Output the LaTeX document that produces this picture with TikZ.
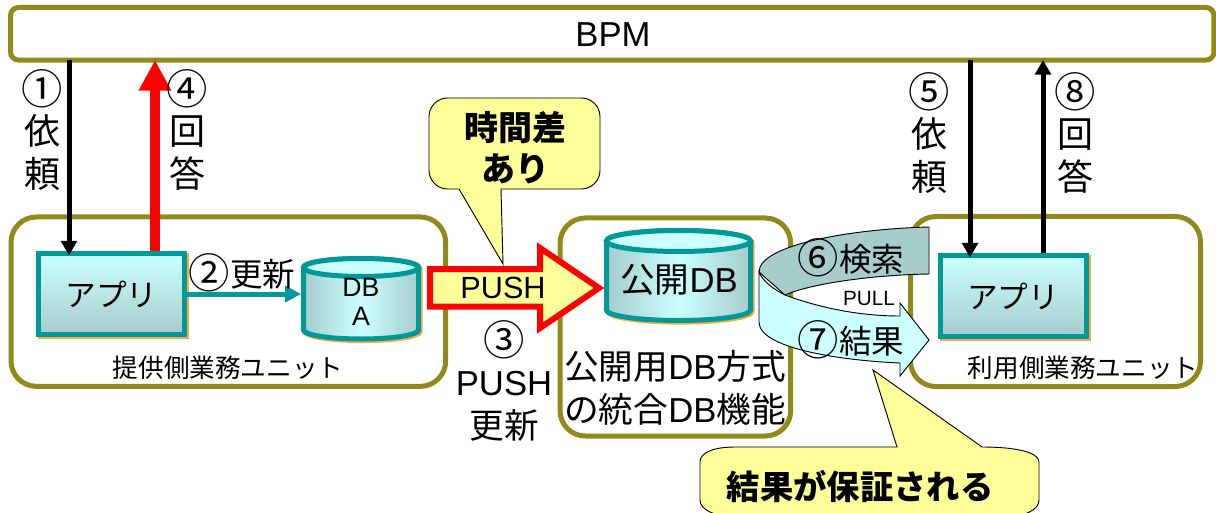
\documentclass[tikz,border=0pt]{standalone}
\usepackage{fontspec}
\setmainfont{Liberation Sans}
\newfontfamily\cjk{Noto Sans CJK JP}
\usetikzlibrary{arrows.meta,shadows,calc}

\definecolor{unitolive}{HTML}{8F8A1A}
\definecolor{dbteal}{HTML}{009999}
\definecolor{palecyan}{HTML}{CCFFFF}
\definecolor{palegray}{HTML}{A6CCCC}
\definecolor{noteyellow}{HTML}{FFFF99}
\definecolor{edgeorange}{HTML}{FFA940}

\newcommand{\jp}[1]{{\cjk #1}}
\newcommand{\fsize}[2]{\fontsize{#1}{#2}\selectfont}
\newcommand{\stepno}[1]{{\cjk\fontsize{31}{31}\selectfont\raisebox{-1.8pt}{#1}}}
% left, right, y of top ellipse, y of side end, radii
\newcommand{\dbdrum}[6]{
  \path[dbshadow] (#1,#3) -- (#1,#4) arc[start angle=180,end angle=0,x radius=#5,y radius=#6]
    -- (#2,#3) arc[start angle=0,end angle=-180,x radius=#5,y radius=#6] -- cycle;
  \draw[dbbody] (#1,#3) -- (#1,#4) arc[start angle=180,end angle=0,x radius=#5,y radius=#6]
    -- (#2,#3) arc[start angle=0,end angle=-180,x radius=#5,y radius=#6] -- cycle;
  \draw[dbtop] ({(#1+#2)/2},#3) ellipse (#5 and #6);
}

\tikzset{
  unitbox/.style={draw=unitolive,line width=3.75pt,rounded corners=#1,anchor=north west,inner sep=0pt,outer sep=0pt},
  appbox/.style={draw=dbteal,line width=3.75pt,top color=palecyan,bottom color=palegray,
    minimum width=109.5pt,minimum height=60.75pt,inner sep=0pt,outer sep=0pt,font=\fsize{23}{28},
    drop shadow={shadow xshift=1.5pt,shadow yshift=-1.5pt,fill=edgeorange,draw=edgeorange,line width=3.75pt,opacity=1}},
  dbbody/.style={draw=dbteal,line width=3.75pt,left color=palegray,right color=palegray,middle color=palecyan},
  dbshadow/.style={draw=edgeorange,fill=edgeorange,line width=3.75pt,xshift=1.2pt,yshift=-1.2pt},
  dbtop/.style={draw=dbteal,line width=3.75pt,fill=palecyan},
  caption/.style={align=center,inner sep=0pt,outer sep=0pt},
  reqline/.style={line width=3.75pt,shorten >=-1.5pt,-{Triangle[length=11pt,width=11.75pt]}},
  ansline/.style={line width=3.75pt,shorten <=2pt,-{Triangle[length=11pt,width=11.75pt]}},
  callout/.style={draw=black,line width=.7pt,fill=noteyellow},
  bandline/.style={draw=black,line width=.7pt},
}

\begin{document}
\begin{tikzpicture}[x=.75pt,y=-.75pt]
  \useasboundingbox (0,0) rectangle (1216,513);
  \clip (0,0) rectangle (1216,513);

  % units
  \node[unitbox=6pt,minimum width=902.6pt,minimum height=39.4pt,fill=white] (bpm) at (10.5,7.5) {};
  \node[font=\fsize{26}{30}] at (613,35) (bpmtext) {BPM};
  \node[unitbox=19pt,minimum width=326pt,minimum height=127pt] (unita) at (11,217) {};
  \node[unitbox=19pt,minimum width=173pt,minimum height=163.5pt] (unitdb) at (560,218) {};
  \node[unitbox=19pt,minimum width=217.5pt,minimum height=127.5pt] (unitb) at (910.5,216.5) {};

  % applications and databases
  \node[appbox] (appa) at (111.5,294) {\jp{アプリ}};
  \node[appbox] (appb) at (1013,296) {\jp{アプリ}};

  \dbdrum{303.5}{418.5}{267.5}{330}{57.5}{9}
  \node[caption,minimum width=86pt,font=\fsize{20}{21.75}] (dba) at (361,302) {DB\\A};
  \dbdrum{606.5}{750.5}{241}{310}{72}{10.5}
  \node[caption,minimum width=108pt,font=\fsize{26}{30}] (dbpub) at (679,280) {\jp{公開}DB};

  % requests and answers
  \coordinate (reqa) at (69,0);
  \coordinate (ansa) at (155,0);
  \coordinate (reqb) at (970,0);
  \coordinate (ansb) at (1043,0);
  \draw[reqline] (reqa |- bpm.south) -- (reqa |- appa.north);
  \draw[line width=7.5pt,red,shorten <=2pt,-{Triangle[length=23pt,width=23pt]}] (ansa |- appa.north) -- (ansa |- bpm.south);
  \draw[reqline] (reqb |- bpm.south) -- (reqb |- appb.north);
  \draw[ansline] (ansb |- appb.north) -- (ansb |- bpm.south);
  \draw[line width=3.75pt,dbteal,shorten >=2pt,-{Triangle[length=12pt,width=12pt]}] (appa.east) -- (appa.east -| dba.west);

  \node[caption,font=\fsize{27}{32.25}] (stepone) at (42,130) {\stepno{①}\\\jp{依}\\\jp{頼}};
  \node[caption,font=\fsize{27}{32.25}] (stepfour) at (187,130) {\stepno{④}\\\jp{回}\\\jp{答}};
  \node[caption,font=\fsize{27}{32.25}] (stepfive) at (929,133) {\stepno{⑤}\\\jp{依}\\\jp{頼}};
  \node[caption,font=\fsize{27}{32.25}] (stepeight) at (1075,133) {\stepno{⑧}\\\jp{回}\\\jp{答}};
  \node[caption,font=\fsize{24.4}{28}] (steptwo) at (242,273) {\stepno{②}\jp{更新}};
  \node[caption,font=\fsize{19.2}{23}] (unitaname) at (228,368) {\jp{提供側業務ユニット}};
  \node[caption,font=\fsize{19.2}{23}] (unitbname) at (1083,368) {\jp{利用側業務ユニット}};
  \node[caption,font=\fsize{26}{32}] (stepthree) at (504,381) {\stepno{③}\\PUSH\\\jp{更新}};
  \node[caption,font=\fsize{26}{32}] (dbname) at (675,388) {\jp{公開用}DB\jp{方式}\\\jp{の統合}DB\jp{機能}};

  % push arrow
  \draw[draw=red,fill=noteyellow,line width=4.5pt,miter limit=10]
    (430,269) -- (540,269) -- (540,248) -- (599,288) -- (540,328) -- (540,306.5) -- (430,306.5) -- cycle;
  \node[font=\fsize{23}{26}] (pushtext) at (503,288) {PUSH};

  % note on the time lag
  \draw[callout] (459,189) [rounded corners=14pt] -- (429,189) -- (429,98) -- (600,98) -- (600,189)
    [sharp corners] -- (501,189) -- (503,264) -- cycle;
  \node[caption,font=\fsize{25.5}{31}\bfseries] (lagnote) at (515,148) {\jp{時間差}\\\jp{あり}};

  % search and result band
  \draw[bandline,fill=palegray] (929,227) .. controls (850,229) and (759,245) .. (759,272)
    -- (785,295) .. controls (810,284) and (870,275) .. (929,274) -- cycle;
  \draw[bandline,fill=palecyan] (759,272) .. controls (763,282) and (775,290) .. (785,295)
    .. controls (820,308) and (860,316) .. (900,316) -- (900,303) -- (929,340) -- (900,376) -- (900,363)
    .. controls (850,361) and (759,350) .. (759,322) -- cycle;
  \node[caption,font=\fsize{24.4}{28}] (stepsix) at (851,258) {\stepno{⑥}\jp{検索}};
  \node[caption,font=\fsize{24.4}{28}] (stepseven) at (851,340) {\stepno{⑦}\jp{結果}};
  \node[caption,font=\fsize{15.5}{18}] (pulltext) at (869,298) {PULL};

  % note on the result
  \draw[callout] (873,370) -- (897,447) -- (735,447) .. controls (715,447) and (700,452) .. (700,462)
    -- (700,500) .. controls (700,510) and (715,516) .. (735,518) -- (1005,518)
    .. controls (1025,516) and (1039,510) .. (1039,500) -- (1039,462)
    .. controls (1039,452) and (1015,447) .. (982,447) -- cycle;
  \node[caption,font=\fsize{25}{30}\bfseries] (resultnote) at (860,486) {\jp{結果が保証される}};
\end{tikzpicture}
\end{document}
